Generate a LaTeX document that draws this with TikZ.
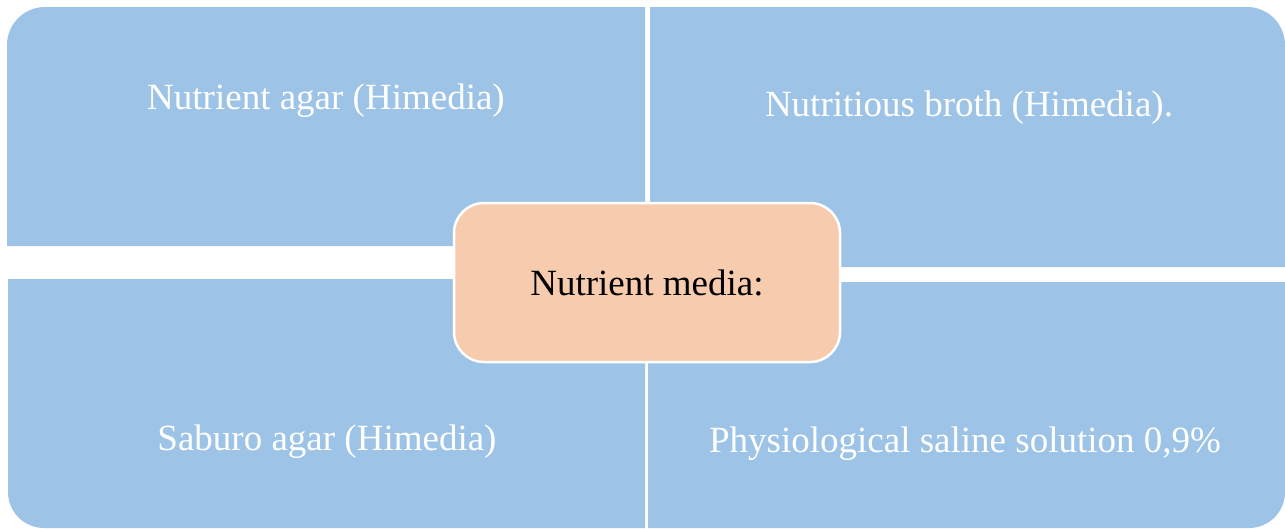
\documentclass[tikz,border=0pt]{standalone}
\usepackage{fontspec}
\setmainfont{Liberation Serif}
\definecolor{quadblue}{HTML}{9DC3E6}
\definecolor{hubpeach}{HTML}{F7CBAD}

\begin{document}
\begin{tikzpicture}[
  x=1pt,y=-1pt,
  quad/.style={fill=quadblue},
  lbl/.style={text=white,font=\fontsize{37}{44}\selectfont},
  hub/.style={rectangle,rounded corners=30,fill=hubpeach,draw=white,line width=2.5,
    minimum width=386,minimum height=159,font=\fontsize{37}{44}\selectfont}
]
  \useasboundingbox (0,0) rectangle (1285,528);
  % the four quarters
  \fill[quad] (7,126) [rounded corners=38] -- (7,7) -- (326,7) [sharp corners] -- (645,7) -- (645,246) -- (7,246) -- cycle;
  \fill[quad] (968,7) [rounded corners=38] -- (1285,7) -- (1285,137) [sharp corners] -- (1285,267) -- (650,267) -- (650,7) -- cycle;
  \fill[quad] (8,403) [rounded corners=36] -- (8,528) -- (326,528) [sharp corners] -- (645,528) -- (645,279) -- (8,279) -- cycle;
  \fill[quad] (966,528) [rounded corners=36] -- (1285,528) -- (1285,405) [sharp corners] -- (1285,282) -- (648,282) -- (648,528) -- cycle;
  \node[lbl](agar) at (326,101){Nutrient agar (Himedia)};
  \node[lbl](broth) at (969,108){Nutritious broth (Himedia).};
  \node[lbl](saburo) at (327,442){Saburo agar (Himedia)};
  \node[lbl](saline) at (965,444){Physiological saline solution 0,9\%};
  \node[hub](media) at (647,282.5){Nutrient media:};
\end{tikzpicture}
\end{document}
